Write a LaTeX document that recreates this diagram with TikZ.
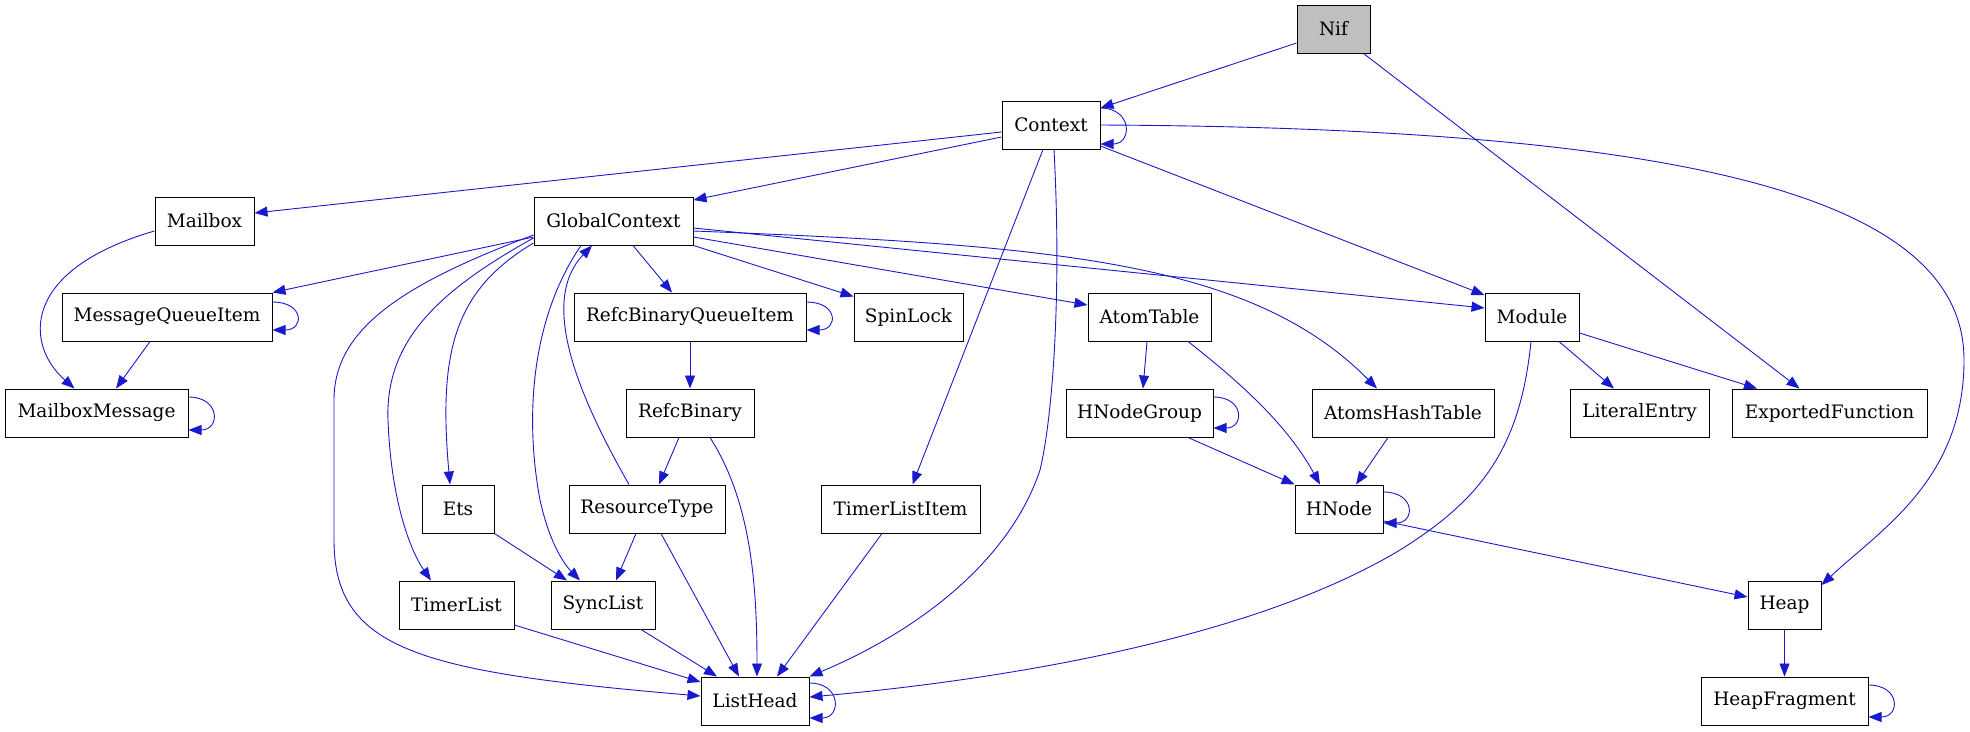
\documentclass[tikz,border=0pt]{standalone}
\usepackage{fontspec}
\setmainfont{DejaVu Serif}
\usepackage{tikz}
\usetikzlibrary{arrows.meta}

\definecolor{edgeblue}{RGB}{26,26,205}
\definecolor{nifgray}{RGB}{191,191,191}

\begin{document}
\begin{tikzpicture}[x=1pt, y=-1pt,
    cls/.style={draw, line width=1pt, minimum height=48pt, inner sep=0pt, fill=white, font=\fontsize{18.5}{22}\selectfont},
    dep/.style={-{Triangle[length=13pt,width=10pt]}, line width=0.9pt, draw=edgeblue}
]
\path[fill=white] (0,0) rectangle (1970,731);
\useasboundingbox (0,0) rectangle (1970,731);

% classes
\node[cls, minimum width=73pt, fill=nifgray] (nif) at (1333.5,29) {Nif};
\node[cls, minimum width=98pt] (context) at (1051,125) {Context};
\node[cls, minimum width=99pt] (mailbox) at (204.5,221) {Mailbox};
\node[cls, minimum width=159pt] (globalctx) at (613.5,221) {GlobalContext};
\node[cls, minimum width=210pt] (mqitem) at (167,317) {MessageQueueItem};
\node[cls, minimum width=232pt] (rbqitem) at (690,317) {RefcBinaryQueueItem};
\node[cls, minimum width=109pt] (spinlock) at (908.5,317) {SpinLock};
\node[cls, minimum width=123pt] (atomtable) at (1149.5,317) {AtomTable};
\node[cls, minimum width=94pt] (module) at (1532,317) {Module};
\node[cls, minimum width=183pt] (mbmsg) at (96.5,413) {MailboxMessage};
\node[cls, minimum width=128pt] (refcbin) at (690,413) {RefcBinary};
\node[cls, minimum width=147pt] (hngroup) at (1139.5,413) {HNodeGroup};
\node[cls, minimum width=182pt] (atomshash) at (1403,413) {AtomsHashTable};
\node[cls, minimum width=139pt] (literal) at (1639.5,413) {LiteralEntry};
\node[cls, minimum width=195pt] (exported) at (1829.5,413) {ExportedFunction};
\node[cls, minimum width=72pt] (ets) at (458,509) {Ets};
\node[cls, minimum width=156pt] (restype) at (647,509) {ResourceType};
\node[cls, minimum width=159pt] (tlitem) at (900.5,509) {TimerListItem};
\node[cls, minimum width=88pt] (hnode) at (1339,509) {HNode};
\node[cls, minimum width=115pt] (timerlist) at (456.5,605) {TimerList};
\node[cls, minimum width=104pt] (synclist) at (603,605) {SyncList};
\node[cls, minimum width=73pt] (heap) at (1784.5,605) {Heap};
\node[cls, minimum width=108pt] (listhead) at (755,701) {ListHead};
\node[cls, minimum width=167pt] (heapfrag) at (1784.5,701) {HeapFragment};

% Nif and Context
\draw[dep] ([yshift=-14pt]nif.west) -- ([yshift=17pt]context.east);
\draw[dep] ([xshift=30pt]nif.south) -- ([xshift=-30pt]exported.north);
\draw[dep] ([yshift=17pt]context.east) .. controls +(32,0) and +(32,0) .. ([yshift=-19pt]context.east);
\draw[dep] ([yshift=-7pt]context.west) -- ([yshift=8pt]mailbox.east);
\draw[dep] ([yshift=-12pt]context.west) -- ([yshift=21pt]globalctx.east);
\draw[dep] ([yshift=-21pt]context.east) -- ([yshift=22pt]module.west);
\draw[dep] (context.east) .. controls (1700,128) and (1964,200) .. (1964,360)
    .. controls (1964,480) and (1880,530) .. ([yshift=20pt]heap.east);
\draw[dep] ([xshift=-8pt]context.south) -- ([xshift=12pt]tlitem.north);
\draw[dep] ([xshift=3pt]context.south) .. controls (1062,300) and (1052,420) .. (1040,470)
    .. controls (1010,560) and (920,630) .. (listhead.north east);

% mailbox side
\draw[dep] ([yshift=-10pt]mailbox.west) .. controls (20,270) and (25,345) .. ([xshift=-22pt]mbmsg.north);
\draw[dep] ([yshift=15pt]mqitem.east) .. controls +(32,0) and +(32,0) .. ([yshift=-13pt]mqitem.east);
\draw[dep] ([xshift=-17pt]mqitem.south) -- ([xshift=19.5pt]mbmsg.north);
\draw[dep] ([yshift=16pt]mbmsg.east) .. controls +(32,0) and +(32,0) .. ([yshift=-17pt]mbmsg.east);

% GlobalContext
\draw[dep] ([yshift=-16pt]globalctx.west) -- (mqitem.north east);
\draw[dep] ([xshift=19.5pt]globalctx.south) -- ([xshift=-18pt]rbqitem.north);
\draw[dep] (globalctx.south east) -- ([yshift=-4pt]spinlock.north west);
\draw[dep] ([yshift=-16pt]globalctx.east) -- ([yshift=12pt]atomtable.west);
\draw[dep] ([yshift=-7pt]globalctx.east) -- ([yshift=9pt]module.west);
\draw[dep] ([yshift=-10pt]globalctx.east) .. controls (1050,245) and (1250,260) .. ([xshift=-26pt]atomshash.north);
\draw[dep] ([yshift=-14pt]globalctx.west) .. controls (400,285) and (334,330) .. (334,400) -- (334,540)
    .. controls (334,650) and (420,672) .. ([yshift=5pt]listhead.west);
\draw[dep] ([yshift=-17pt]globalctx.west) .. controls (440,290) and (385,340) .. (388,420)
    .. controls (391,500) and (410,550) .. ([xshift=-25.5pt]timerlist.north);
\draw[dep] ([yshift=-22pt]globalctx.west) .. controls (455,290) and (438,350) .. ([xshift=-8pt]ets.north);
\draw[dep] ([xshift=-32.5pt]globalctx.south) .. controls (530,320) and (525,420) .. (540,500)
    .. controls (550,545) and (565,565) .. ([xshift=-23pt]synclist.north);
\draw[dep] ([xshift=-18pt]restype.north) .. controls (575,390) and (540,300) .. ([xshift=-21.5pt]globalctx.south);

% binaries and lists
\draw[dep] ([yshift=15pt]rbqitem.east) .. controls +(32,0) and +(32,0) .. ([yshift=-13pt]rbqitem.east);
\draw[dep] (rbqitem.south) -- (refcbin.north);
\draw[dep] ([xshift=-11pt]refcbin.south) -- ([xshift=12pt]restype.north);
\draw[dep] ([xshift=20pt]refcbin.south) .. controls (750,500) and (757,580) .. ([xshift=2pt]listhead.north);
\draw[dep] ([xshift=-11pt]restype.south) -- ([xshift=13pt]synclist.north);
\draw[dep] ([xshift=14pt]restype.south) -- ([xshift=-16pt]listhead.north);
\draw[dep] (ets.south east) -- ([xshift=-36pt]synclist.north);
\draw[dep] ([yshift=-20pt]timerlist.east) -- ([yshift=19pt]listhead.west);
\draw[dep] ([xshift=38pt]synclist.south) -- ([xshift=-38pt]listhead.north);
\draw[dep] ([xshift=-18.5pt]tlitem.south) -- ([xshift=22pt]listhead.north);
\draw[dep] ([yshift=18pt]listhead.east) .. controls +(32,0) and +(32,0) .. ([yshift=-17pt]listhead.east);

% atoms and hash nodes
\draw[dep] ([xshift=-2.5pt]atomtable.south) -- ([xshift=3.5pt]hngroup.north);
\draw[dep] ([xshift=38.5pt]atomtable.south) .. controls (1250,390) and (1290,430) .. ([xshift=-19pt]hnode.north);
\draw[dep] ([yshift=16pt]hngroup.east) .. controls +(31,0) and +(31,0) .. ([yshift=-15pt]hngroup.east);
\draw[dep] ([xshift=48.5pt]hngroup.south) -- (hnode.north west);
\draw[dep] ([xshift=-15pt]atomshash.south) -- ([xshift=17pt]hnode.north);
\draw[dep] ([yshift=17pt]hnode.east) .. controls +(32,0) and +(32,0) .. ([yshift=-14pt]hnode.east);
\draw[dep] ([yshift=-12pt]hnode.east) -- ([yshift=8pt]heap.west);

% module and heap
\draw[dep] ([xshift=27pt]module.south) -- ([xshift=-25.5pt]literal.north);
\draw[dep] ([yshift=-16pt]module.east) -- ([xshift=-72.5pt]exported.north);
\draw[dep] ([xshift=-1pt]module.south) .. controls (1520,450) and (1480,500) .. (1400,550)
    .. controls (1250,640) and (1000,680) .. ([yshift=4pt]listhead.east);
\draw[dep] (heap.south) -- (heapfrag.north);
\draw[dep] ([yshift=16pt]heapfrag.east) .. controls +(32,0) and +(32,0) .. ([yshift=-16pt]heapfrag.east);
\end{tikzpicture}
\end{document}
